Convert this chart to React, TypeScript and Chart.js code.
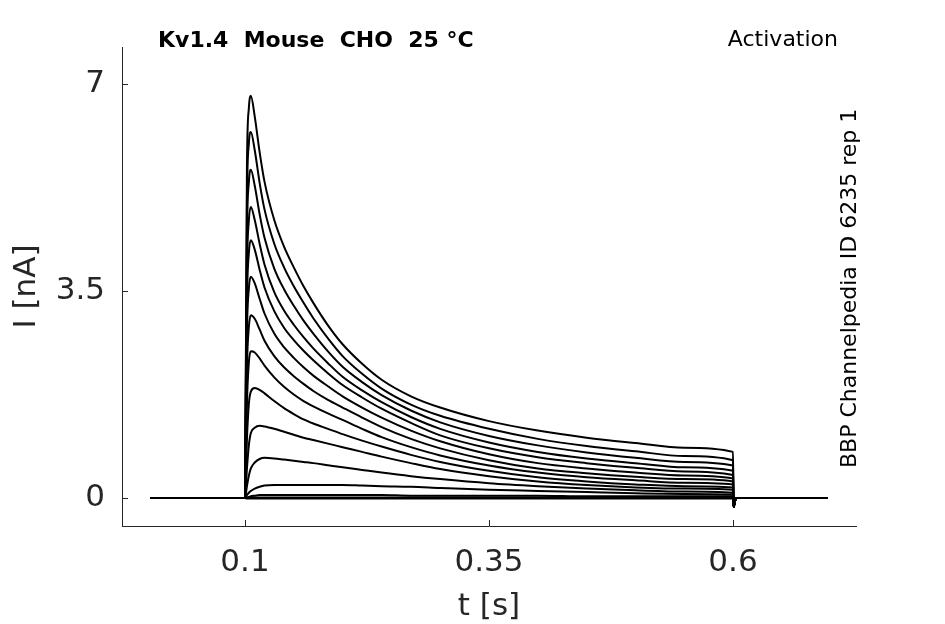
import { useEffect, useRef } from "react"
import { Chart, registerables } from "chart.js"

Chart.register(...registerables)

// sample times [s]
const times = [
  0.003, 0.1, 0.102, 0.104, 0.106, 0.11, 0.115, 0.12, 0.13, 0.14, 0.15, 0.16, 0.17, 0.185,
  0.2, 0.22, 0.24, 0.27, 0.3, 0.35, 0.4, 0.45, 0.5, 0.55, 0.6, 0.6005, 0.603, 0.697,
]

// current sweeps [nA], largest first
const sweep01 = [0, 0, 5.6, 6.6, 6.8, 6.45, 5.85, 5.35, 4.7, 4.25, 3.9, 3.58, 3.3, 2.92, 2.6, 2.27, 2.0, 1.72, 1.53, 1.3, 1.14, 1.02, 0.93, 0.85, 0.78, -0.15, 0, 0]
const sweep02 = [0, 0, 5.0, 6.0, 6.19, 5.88, 5.33, 4.88, 4.3, 3.9, 3.58, 3.3, 3.04, 2.7, 2.4, 2.1, 1.85, 1.58, 1.39, 1.17, 1.0, 0.88, 0.79, 0.71, 0.64, -0.15, 0, 0]
const sweep03 = [0, 0, 4.4, 5.35, 5.55, 5.28, 4.8, 4.4, 3.88, 3.53, 3.25, 3.0, 2.78, 2.48, 2.22, 1.96, 1.74, 1.48, 1.28, 1.05, 0.89, 0.77, 0.68, 0.61, 0.55, -0.15, 0, 0]
const sweep04 = [0, 0, 3.8, 4.7, 4.92, 4.7, 4.3, 3.95, 3.48, 3.17, 2.93, 2.72, 2.53, 2.28, 2.05, 1.82, 1.62, 1.37, 1.17, 0.94, 0.78, 0.67, 0.59, 0.52, 0.46, -0.15, 0, 0]
const sweep05 = [0, 0, 3.3, 4.15, 4.36, 4.2, 3.86, 3.56, 3.16, 2.88, 2.67, 2.49, 2.33, 2.11, 1.91, 1.7, 1.51, 1.27, 1.06, 0.84, 0.69, 0.59, 0.51, 0.45, 0.39, -0.15, 0, 0]
const sweep06 = [0, 0, 2.8, 3.55, 3.74, 3.63, 3.37, 3.12, 2.78, 2.55, 2.37, 2.21, 2.07, 1.89, 1.72, 1.53, 1.36, 1.14, 0.96, 0.74, 0.59, 0.5, 0.43, 0.38, 0.33, -0.15, 0, 0]
const sweep07 = [0, 0, 2.2, 2.9, 3.09, 3.03, 2.85, 2.66, 2.4, 2.21, 2.06, 1.93, 1.81, 1.66, 1.53, 1.36, 1.2, 1.0, 0.84, 0.64, 0.5, 0.42, 0.36, 0.32, 0.28, -0.15, 0, 0]
const sweep08 = [0, 0, 1.6, 2.3, 2.48, 2.46, 2.36, 2.24, 2.04, 1.88, 1.75, 1.64, 1.55, 1.43, 1.32, 1.17, 1.03, 0.86, 0.72, 0.55, 0.43, 0.35, 0.3, 0.26, 0.23, -0.15, 0, 0]
const sweep09 = [0, 0, 1.0, 1.6, 1.8, 1.86, 1.83, 1.77, 1.64, 1.52, 1.42, 1.33, 1.26, 1.17, 1.08, 0.97, 0.87, 0.73, 0.61, 0.46, 0.35, 0.28, 0.23, 0.2, 0.18, -0.15, 0, 0]
const sweep10 = [0, 0, 0.5, 0.9, 1.1, 1.19, 1.22, 1.21, 1.17, 1.12, 1.07, 1.02, 0.98, 0.92, 0.86, 0.78, 0.7, 0.59, 0.49, 0.37, 0.28, 0.22, 0.18, 0.16, 0.14, -0.15, 0, 0]
const sweep11 = [0, 0, 0.2, 0.38, 0.5, 0.6, 0.66, 0.68, 0.67, 0.65, 0.63, 0.61, 0.59, 0.555, 0.52, 0.475, 0.43, 0.37, 0.32, 0.25, 0.2, 0.16, 0.13, 0.11, 0.09, -0.15, 0, 0]
const sweep12 = [0, 0, 0.05, 0.09, 0.12, 0.16, 0.19, 0.21, 0.22, 0.22, 0.22, 0.22, 0.22, 0.22, 0.22, 0.21, 0.2, 0.19, 0.17, 0.14, 0.12, 0.1, 0.08, 0.07, 0.06, -0.15, 0, 0]
const sweep13 = [0, 0, 0.01, 0.02, 0.03, 0.04, 0.05, 0.05, 0.05, 0.05, 0.05, 0.05, 0.05, 0.05, 0.05, 0.05, 0.05, 0.04, 0.04, 0.04, 0.04, 0.03, 0.03, 0.03, 0.03, -0.12, 0, 0]
const sweep14 = [0, 0, 0, 0.01, 0.01, 0.01, 0.01, 0.01, 0.01, 0.01, 0.01, 0.01, 0.01, 0.01, 0.01, 0.01, 0.01, 0.01, 0.01, 0.01, 0.01, 0.01, 0.01, 0.01, 0.01, -0.1, 0, 0]
const sweep15 = [0, 0, -0.01, -0.01, -0.01, -0.01, -0.01, -0.01, -0.01, -0.01, -0.01, -0.01, -0.01, -0.01, -0.01, -0.01, -0.01, -0.01, -0.01, -0.01, -0.01, -0.01, -0.01, -0.01, -0.01, -0.08, 0, 0]

const sweeps = [
  sweep01, sweep02, sweep03, sweep04, sweep05, sweep06, sweep07, sweep08,
  sweep09, sweep10, sweep11, sweep12, sweep13, sweep14, sweep15,
]

const xTickValues = [0.1, 0.35, 0.6]
const xTickLabels = ["0.1", "0.35", "0.6"]
const yTickValues = [0, 3.5, 7]
const yTickLabels = ["0", "3.5", "7"]

const AXIS_COLOR = "#262626"
const FONT = "'DejaVu Sans', sans-serif"

// matplotlib-style inward ticks plus the free text around the axes
const decorations = {
  id: "decorations",
  afterDraw(chart: any) {
    const { ctx, chartArea, scales } = chart
    ctx.save()
    ctx.strokeStyle = AXIS_COLOR
    ctx.lineWidth = 1
    ctx.beginPath()
    xTickValues.forEach((v) => {
      const px = Math.round(scales.x.getPixelForValue(v)) + 0.5
      ctx.moveTo(px, chartArea.bottom)
      ctx.lineTo(px, chartArea.bottom - 6)
    })
    yTickValues.forEach((v) => {
      const py = Math.round(scales.y.getPixelForValue(v)) + 0.5
      ctx.moveTo(chartArea.left, py)
      ctx.lineTo(chartArea.left + 6, py)
    })
    ctx.stroke()

    ctx.fillStyle = "#000"
    ctx.textBaseline = "alphabetic"
    ctx.font = `bold 22px ${FONT}`
    ctx.textAlign = "left"
    ctx.fillText("Kv1.4  Mouse  CHO  25 °C", 158, 47)
    ctx.font = `22px ${FONT}`
    ctx.textAlign = "right"
    ctx.fillText("Activation", 838, 46)

    ctx.save()
    ctx.translate(856, 468)
    ctx.rotate(-Math.PI / 2)
    ctx.textAlign = "left"
    ctx.font = `22px ${FONT}`
    ctx.fillText("BBP Channelpedia ID 6235 rep 1", 0, 0)
    ctx.restore()

    ctx.fillStyle = AXIS_COLOR
    ctx.font = `31px ${FONT}`
    ctx.textAlign = "center"
    ctx.fillText("t [s]", (chartArea.left + chartArea.right) / 2, 615)

    ctx.save()
    ctx.translate(35, (chartArea.top + chartArea.bottom) / 2)
    ctx.rotate(-Math.PI / 2)
    ctx.fillText("I [nA]", 0, 0)
    ctx.restore()

    ctx.restore()
  },
}

export default function App() {
  const canvasRef = useRef<HTMLCanvasElement>(null)
  const chartRef = useRef<Chart | null>(null)

  useEffect(() => {
    if (!canvasRef.current) return
    if (chartRef.current) chartRef.current.destroy()

    const datasets = sweeps.map((sweep, i) => ({
      label: `sweep ${i + 1}`,
      data: times.map((t, j) => ({ x: t, y: sweep[j] })),
      borderColor: "#000",
      borderWidth: 2,
      pointRadius: 0,
      cubicInterpolationMode: "monotone" as const,
      fill: false,
    }))

    chartRef.current = new Chart(canvasRef.current, {
      type: "line",
      data: { datasets },
      options: {
        animation: false,
        responsive: true,
        maintainAspectRatio: false,
        layout: { padding: { left: 0, right: 89, top: 47, bottom: 0 } },
        plugins: {
          legend: { display: false },
          tooltip: { enabled: false },
        },
        scales: {
          x: {
            type: "linear",
            min: -0.026,
            max: 0.726,
            afterFit: (scale: any) => {
              scale.height = 98
            },
            afterBuildTicks: (scale: any) => {
              scale.ticks = xTickValues.map((value) => ({ value }))
            },
            grid: { display: false, drawTicks: false },
            border: { display: true, color: AXIS_COLOR, width: 1 },
            ticks: {
              color: AXIS_COLOR,
              padding: 18,
              maxRotation: 0,
              font: { family: FONT, size: 31 },
              callback: (value: any) => xTickLabels[xTickValues.indexOf(Number(value))] ?? "",
            },
          },
          y: {
            type: "linear",
            min: -0.473,
            max: 7.626,
            afterFit: (scale: any) => {
              scale.width = 122
            },
            afterBuildTicks: (scale: any) => {
              scale.ticks = yTickValues.map((value) => ({ value }))
            },
            grid: { display: false, drawTicks: false },
            border: { display: true, color: AXIS_COLOR, width: 1 },
            ticks: {
              color: AXIS_COLOR,
              padding: 17,
              font: { family: FONT, size: 31 },
              callback: (value: any) => yTickLabels[yTickValues.indexOf(Number(value))] ?? "",
            },
          },
        },
      },
      plugins: [decorations],
    })

    return () => {
      if (chartRef.current) {
        chartRef.current.destroy()
        chartRef.current = null
      }
    }
  }, [])

  return (
    <div style={{ position: "absolute", left: 0, top: 0, width: 945, height: 624, background: "#fff" }}>
      <canvas ref={canvasRef} />
    </div>
  )
}
